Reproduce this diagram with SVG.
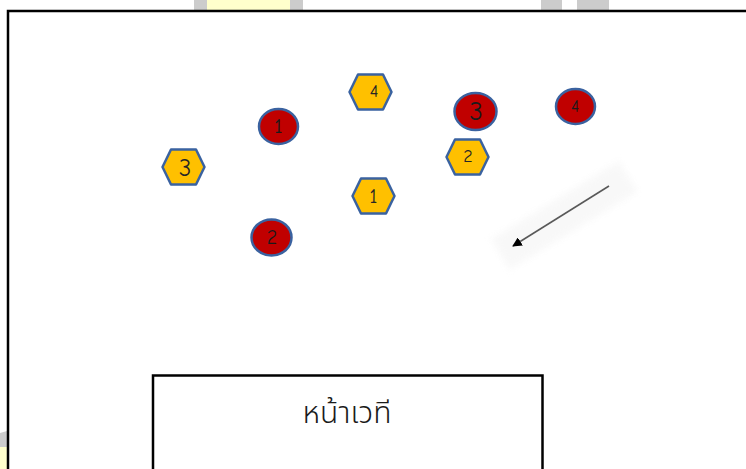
<svg xmlns="http://www.w3.org/2000/svg" width="746" height="469" viewBox="0 0 746 469">
  <style>
    .seat-red { fill: #C00000; stroke: #3A62A0; stroke-width: 2.5; }
    .seat-gold { fill: #FFC000; stroke: #3A62A0; stroke-width: 2.5; stroke-linejoin: round; }
    .num { font-family: "Comic Neue", "Liberation Sans", sans-serif; font-size: 18px; fill: #262626; text-anchor: middle; dominant-baseline: central; }
    .num-red { fill: #1a1a1a; }
    .frame { fill: none; stroke: #000; stroke-width: 2.5; }
    .stage-label { font-family: "Noto Sans Thai", "Noto Sans", "DejaVu Sans", sans-serif; font-size: 30px; font-weight: 300; fill: #1a1a1a; text-anchor: middle; }
  </style>
  <defs>
    <marker id="arrowhead" viewBox="0 0 10 10" refX="9" refY="5" markerWidth="6" markerHeight="6" orient="auto" markerUnits="strokeWidth">
      <path d="M0,0 L10,5 L0,10 z" fill="#000"/>
    </marker>
    <filter id="soft" x="-20%" y="-50%" width="140%" height="200%">
      <feGaussianBlur stdDeviation="3"/>
    </filter>
  </defs>

  <rect width="746" height="469" fill="#fff"/>

  <!-- background tabs peeking out around the page -->
  <g id="backdrop">
    <rect x="194" y="0" width="13" height="10" fill="#cccccc"/>
    <rect x="207" y="0" width="83" height="10" fill="#ffffcc"/>
    <rect x="290" y="0" width="13" height="10" fill="#cccccc"/>
    <rect x="541" y="0" width="21" height="10" fill="#cccccc"/>
    <rect x="577" y="0" width="32" height="10" fill="#cccccc"/>
    <polygon points="0,433 7,431 7,447 0,447" fill="#cccccc"/>
    <rect x="0" y="447" width="7" height="22" fill="#ffffcc"/>
  </g>

  <!-- page frame -->
  <rect class="frame" x="8" y="11" width="760" height="480"/>

  <!-- stage -->
  <g id="stage">
    <rect class="frame" x="153" y="375.5" width="389.5" height="120"/>
    <text class="stage-label" x="347" y="423">หน้าเวที</text>
  </g>

  <!-- gold hexagon seats -->
  <g id="hex-1">
    <polygon class="seat-gold" points="352.5,196 361,178.5 386,178.5 394.5,196 386,213.5 361,213.5"/>
    <text class="num" x="373.5" y="196" style="font-size:20px">1</text>
  </g>
  <g id="hex-2">
    <polygon class="seat-gold" points="446.5,157 455,139.5 480,139.5 488.5,157 480,174.5 455,174.5"/>
    <text class="num" x="468" y="156">2</text>
  </g>
  <g id="hex-3">
    <polygon class="seat-gold" points="162.5,167 171,149.5 196,149.5 204.5,167 196,184.5 171,184.5"/>
    <text class="num" x="185" y="167" style="font-size:25px">3</text>
  </g>
  <g id="hex-4">
    <polygon class="seat-gold" points="349.5,92 358,74.5 383,74.5 391.5,92 383,109.5 358,109.5"/>
    <text class="num" x="374" y="91">4</text>
  </g>

  <!-- red oval seats -->
  <g id="oval-1">
    <ellipse class="seat-red" cx="278.5" cy="126.5" rx="19.5" ry="17.5"/>
    <text class="num num-red" x="278.5" y="126" style="font-size:21px">1</text>
  </g>
  <g id="oval-2">
    <ellipse class="seat-red" cx="271.5" cy="237.5" rx="20" ry="18"/>
    <text class="num num-red" x="272" y="237" style="font-size:20px">2</text>
  </g>
  <g id="oval-3">
    <ellipse class="seat-red" cx="475.5" cy="111.5" rx="21" ry="18.5"/>
    <text class="num num-red" x="476" y="111" style="font-size:27px">3</text>
  </g>
  <g id="oval-4">
    <ellipse class="seat-red" cx="575.5" cy="106.5" rx="19.5" ry="17.5"/>
    <text class="num num-red" x="575" y="106" style="font-size:17px">4</text>
  </g>

  <!-- direction arrow with its soft backing -->
  <g id="connectors">
    <rect x="-70" y="-18" width="150" height="36" fill="#f4f4f4" opacity="0.6" filter="url(#soft)" transform="translate(560,218) rotate(-31.5)"/>
    <line x1="609" y1="186" x2="513" y2="246" stroke="#595959" stroke-width="1.6" marker-end="url(#arrowhead)"/>
  </g>
</svg>
